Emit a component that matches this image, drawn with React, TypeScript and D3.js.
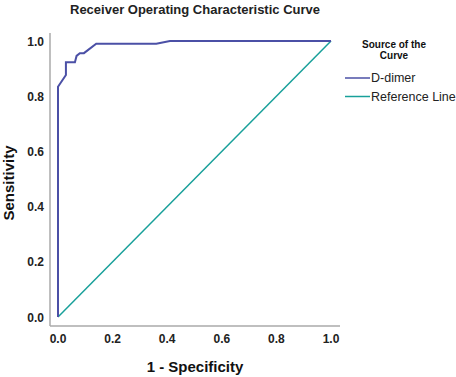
import React from "react";
import * as d3 from "d3";

const rocX = [0, 0, 0.029, 0.029, 0.062, 0.068, 0.08, 0.095, 0.14, 0.36, 0.41, 1.0];
const rocY = [0, 0.834, 0.877, 0.923, 0.923, 0.946, 0.956, 0.956, 0.99, 0.99, 1.0, 1.0];
const refX = [0, 1];
const refY = [0, 1];
const ticks = [0, 0.2, 0.4, 0.6, 0.8, 1.0];
const legendItems = ["D-dimer", "Reference Line"];
const colors = ["#4b50a6", "#18a09a"];

export default function App() {
  const W = 456, H = 377;
  const x = d3.scaleLinear().domain([0, 1]).range([58, 331]);
  const y = d3.scaleLinear().domain([0, 1]).range([317, 41]);
  const line = d3.line<[number, number]>().x(d => x(d[0])).y(d => y(d[1]));
  const roc = rocX.map((v, i) => [v, rocY[i]] as [number, number]);
  const ref = refX.map((v, i) => [v, refY[i]] as [number, number]);
  const font = "'Liberation Sans', Arial, sans-serif";
  return (
    <svg width={W} height={H} style={{ position: "absolute", left: 0, top: 0, background: "#fff" }} fontFamily={font}>
      <text x={195} y={14} textAnchor="middle" fontSize={13} fontWeight="bold" fill="#222">Receiver Operating Characteristic Curve</text>
      <line x1={50} y1={33} x2={50} y2={326} stroke="#aaa" strokeWidth={1.5} />
      <line x1={50} y1={326} x2={340} y2={326} stroke="#aaa" strokeWidth={1.5} />
      {ticks.map(t => (
        <text key={"y" + t} x={44} y={y(t) + 4.5} textAnchor="end" fontSize={12} fontWeight="bold" fill="#222">{t.toFixed(1)}</text>
      ))}
      {ticks.map(t => (
        <text key={"x" + t} x={x(t)} y={343} textAnchor="middle" fontSize={12} fontWeight="bold" fill="#222">{t.toFixed(1)}</text>
      ))}
      <text x={195} y={372} textAnchor="middle" fontSize={15} fontWeight="bold" fill="#111">1 - Specificity</text>
      <text transform="translate(14,183) rotate(-90)" textAnchor="middle" fontSize={15} fontWeight="bold" fill="#111">Sensitivity</text>
      <path d={line(ref) || ""} fill="none" stroke={colors[1]} strokeWidth={1.5} />
      <path d={line(roc) || ""} fill="none" stroke={colors[0]} strokeWidth={2} />
      <text x={394} y={48} textAnchor="middle" fontSize={10} fontWeight="bold" fill="#111">Source of the</text>
      <text x={394} y={59} textAnchor="middle" fontSize={10} fontWeight="bold" fill="#111">Curve</text>
      {legendItems.map((s, i) => (
        <g key={s}>
          <line x1={345} x2={370} y1={78 + i * 18.5} y2={78 + i * 18.5} stroke={colors[i]} strokeWidth={1.5} />
          <text x={371} y={82 + i * 18.5} fontSize={12.5} fill="#222">{s}</text>
        </g>
      ))}
    </svg>
  );
}
